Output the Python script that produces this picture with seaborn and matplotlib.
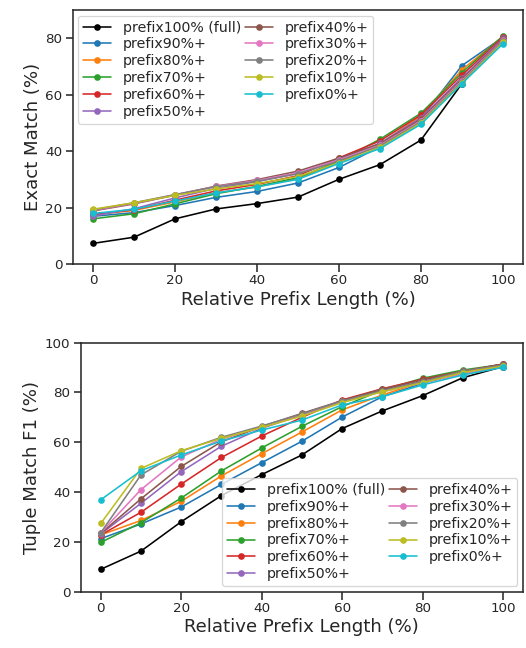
"""Exact Match e Tuple Match F1 vs. comprimento relativo do prefixo."""

import matplotlib

matplotlib.use("Agg")
import matplotlib.pyplot as plt
import pandas as pd
import seaborn as sns

sns.set_theme(
    style="ticks",
    context="talk",
    rc={
        "axes.labelsize": 21.7,
        "xtick.labelsize": 16.2,
        "ytick.labelsize": 16.2,
        "legend.fontsize": 16.9,
    },
)
plt.rcParams["font.family"] = ["DejaVu Sans"]

prefix_len = [0, 10, 20, 30, 40, 50, 60, 70, 80, 90, 100]

series_names = [
    "prefix100% (full)", "prefix90%+", "prefix80%+", "prefix70%+",
    "prefix60%+", "prefix50%+", "prefix40%+", "prefix30%+",
    "prefix20%+", "prefix10%+", "prefix0%+",
]

# Exact Match (%)
em_full = [7.3, 9.5, 16.0, 19.5, 21.4, 23.7, 30.0, 35.2, 43.9, 63.9, 80.0]
em_90 = [16.9, 18.2, 20.7, 23.6, 25.7, 28.7, 34.2, 41.5, 51.5, 70.3, 80.3]
em_80 = [17.4, 19.0, 22.0, 25.2, 27.3, 30.3, 36.0, 42.5, 52.5, 68.8, 80.5]
em_70 = [16.0, 17.8, 21.3, 24.9, 27.5, 30.6, 36.5, 44.2, 53.4, 67.8, 80.8]
em_60 = [17.6, 19.2, 22.6, 25.9, 28.2, 31.3, 37.6, 43.6, 52.8, 66.9, 80.4]
em_50 = [17.0, 19.6, 23.4, 26.8, 29.2, 32.1, 37.0, 42.8, 51.8, 66.0, 79.9]
em_40 = [18.8, 21.3, 24.4, 27.6, 29.9, 32.9, 37.5, 42.6, 51.3, 65.5, 79.6]
em_30 = [19.0, 21.5, 24.5, 27.5, 29.6, 32.4, 36.9, 42.1, 50.8, 65.0, 79.2]
em_20 = [19.2, 21.7, 24.6, 27.4, 29.3, 32.0, 36.5, 41.8, 50.4, 64.6, 78.9]
em_10 = [19.4, 21.7, 24.3, 26.6, 28.5, 31.0, 35.9, 41.3, 50.0, 64.2, 78.5]
em_0 = [17.9, 19.4, 22.3, 25.2, 27.3, 30.0, 35.6, 40.9, 49.5, 63.9, 78.0]

# Tuple Match F1 (%)
f1_full = [9.0, 16.3, 28.1, 38.6, 47.0, 54.9, 65.5, 72.6, 78.7, 85.9, 90.4]
f1_90 = [21.3, 27.2, 34.0, 43.1, 51.8, 60.4, 70.1, 78.3, 83.7, 87.7, 90.4]
f1_80 = [22.8, 28.6, 36.3, 46.5, 55.4, 64.1, 73.0, 79.0, 84.3, 88.0, 91.0]
f1_70 = [19.8, 27.7, 37.6, 48.5, 57.7, 66.4, 74.3, 81.0, 85.7, 89.0, 91.3]
f1_60 = [22.8, 31.9, 43.2, 53.9, 62.5, 70.0, 77.0, 81.5, 85.3, 88.5, 91.4]
f1_50 = [23.2, 35.5, 48.2, 58.4, 65.6, 71.0, 76.3, 81.0, 84.3, 87.7, 90.9]
f1_40 = [23.4, 37.3, 50.3, 60.2, 66.3, 71.6, 76.7, 81.3, 85.0, 88.4, 91.4]
f1_30 = [23.7, 41.0, 54.1, 61.2, 66.3, 71.1, 76.3, 80.3, 83.9, 87.4, 90.6]
f1_20 = [23.7, 46.9, 56.4, 62.0, 66.5, 71.4, 76.6, 80.7, 84.3, 88.6, 91.0]
f1_10 = [27.4, 49.5, 56.6, 61.6, 66.0, 70.5, 75.9, 80.3, 83.9, 88.0, 90.6]
f1_0 = [36.9, 48.6, 54.9, 60.5, 64.9, 68.9, 75.0, 78.3, 83.0, 87.0, 90.1]

em_values = [em_full, em_90, em_80, em_70, em_60, em_50,
             em_40, em_30, em_20, em_10, em_0]
f1_values = [f1_full, f1_90, f1_80, f1_70, f1_60, f1_50,
             f1_40, f1_30, f1_20, f1_10, f1_0]

palette = ["black"] + sns.color_palette("tab10", 10)


def _long(values):
    rows = []
    for name, ys in zip(series_names, values):
        for x, y in zip(prefix_len, ys):
            rows.append({"x": x, "y": y, "serie": name})
    return pd.DataFrame(rows)


def _painel(ax, values, ylabel, ylim, yticks, loc):
    sns.lineplot(
        data=_long(values),
        x="x",
        y="y",
        hue="serie",
        hue_order=series_names,
        palette=palette,
        marker="o",
        markersize=8,
        markeredgewidth=0,
        linewidth=1.9,
        ax=ax,
    )
    ax.set_xlim(-5, 105)
    ax.set_ylim(*ylim)
    ax.set_yticks(yticks)
    ax.set_xticks([0, 20, 40, 60, 80, 100])
    ax.set_xlabel("Relative Prefix Length (%)")
    ax.set_ylabel(ylabel)
    ax.legend(
        loc=loc,
        ncol=2,
        columnspacing=0.3,
        handletextpad=0.8,
        labelspacing=0.2,
        borderpad=0.35,
        borderaxespad=0.4,
    )


fig = plt.figure(figsize=(526 / 60, 648 / 60), dpi=60)
ax1 = fig.add_axes([0.138, 0.5926, 0.857, 0.392])
ax2 = fig.add_axes([0.1534, 0.0869, 0.841, 0.3843])

_painel(ax1, em_values, "Exact Match (%)", (0, 90), [0, 20, 40, 60, 80],
        "upper left")
_painel(ax2, f1_values, "Tuple Match F1 (%)", (0, 100),
        [0, 20, 40, 60, 80, 100], "lower right")

fig.savefig("out.png", dpi=60)
